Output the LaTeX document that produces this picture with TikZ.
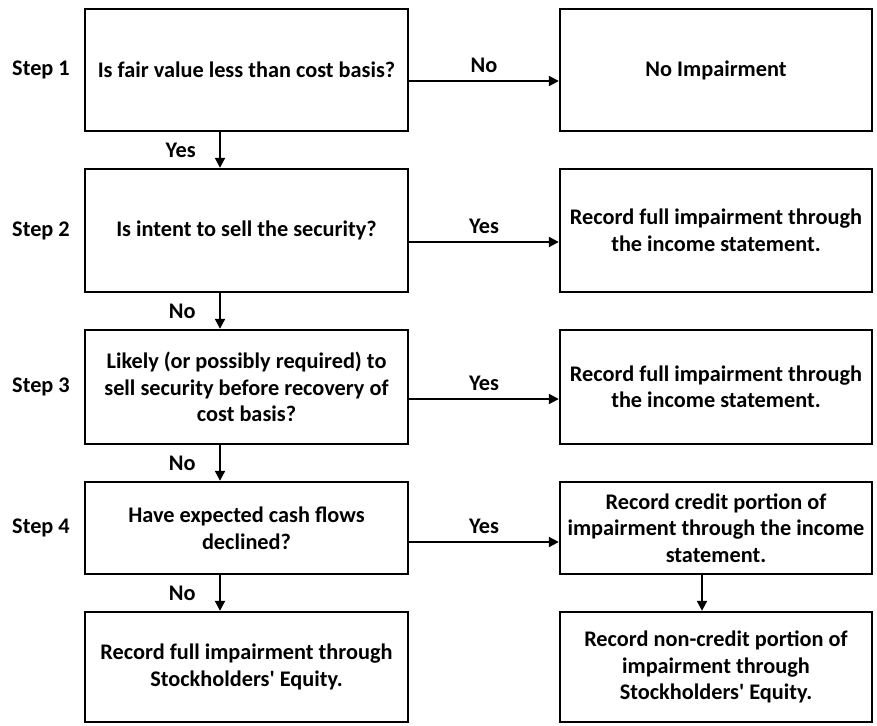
\documentclass[tikz,border=0pt]{standalone}
\usepackage{fontspec}
\setmainfont{Carlito}
\usetikzlibrary{arrows.meta}

\begin{document}
\begin{tikzpicture}[
        x = 1pt, y = -1pt, % one unit per pixel of the reference
        > = {Triangle[length=10pt,width=10pt]}, % arrow head style
        line width = 2pt, % line style
        font = \bfseries\fontsize{22.3}{26.5}\selectfont,
        leftbox/.style = {draw, line width=2.4pt, minimum width=323pt, align=center, inner sep=0pt},
        rightbox/.style = {draw, line width=2.4pt, minimum width=312pt, align=center, inner sep=0pt},
        answer/.style = {above, inner sep=7pt},
        sideanswer/.style = {left=20pt}
        ]

  \useasboundingbox (0,0) rectangle (877,725);

  % steps
  \node (step1) at (41,70) {Step 1};
  \node (step2) at (41,230.5) {Step 2};
  \node (step3) at (41,387) {Step 3};
  \node (step4) at (41,528) {Step 4};

  % questions and outcomes on the left
  \node[leftbox, minimum height=122pt] (q1) at (246.5,70) {Is fair value less than cost basis?};
  \node[leftbox, minimum height=123pt] (q2) at (246.5,230.5) {Is intent to sell the security?};
  \node[leftbox, minimum height=114pt] (q3) at (246.5,387) {Likely (or possibly required) to\\sell security before recovery of\\cost basis?};
  \node[leftbox, minimum height=92pt] (q4) at (246.5,528) {Have expected cash flows\\declined?};
  \node[leftbox, minimum height=110pt] (q5) at (246.5,667) {Record full impairment through\\Stockholders\textquotesingle{} Equity.};

  % results on the right
  \node[rightbox, minimum height=122pt] (r1) at (716,70) {No Impairment};
  \node[rightbox, minimum height=123pt] (r2) at (716,230.5) {Record full impairment through\\the income statement.};
  \node[rightbox, minimum height=114pt] (r3) at (716,387) {Record full impairment through\\the income statement.};
  \node[rightbox, minimum height=92pt] (r4) at (716,528) {Record credit portion of\\impairment through the income\\statement.};
  \node[rightbox, minimum height=110pt] (r5) at (716,667) {Record non-credit portion of\\impairment through\\Stockholders\textquotesingle{} Equity.};

  \draw[->] ([yshift=-11pt]q1.east) -- node[answer] {No} ([yshift=-11pt]r1.west);
  \draw[->] ([yshift=-11.5pt]q2.east) -- node[answer] {Yes} ([yshift=-11.5pt]r2.west);
  \draw[->] ([yshift=-12pt]q3.east) -- node[answer] {Yes} ([yshift=-12pt]r3.west);
  \draw[->] ([yshift=-14pt]q4.east) -- node[answer] {Yes} ([yshift=-14pt]r4.west);

  \draw[->] ([xshift=-26.5pt]q1.south) -- node[sideanswer] {Yes} ([xshift=-26.5pt]q2.north);
  \draw[->] ([xshift=-26.5pt]q2.south) -- node[sideanswer] {No} ([xshift=-26.5pt]q3.north);
  \draw[->] ([xshift=-26.5pt]q3.south) -- node[sideanswer] {No} ([xshift=-26.5pt]q4.north);
  \draw[->] ([xshift=-26.5pt]q4.south) -- node[sideanswer] {No} ([xshift=-26.5pt]q5.north);

  \draw[->] ([xshift=-14pt]r4.south) -- ([xshift=-14pt]r5.north);

\end{tikzpicture}
\end{document}
